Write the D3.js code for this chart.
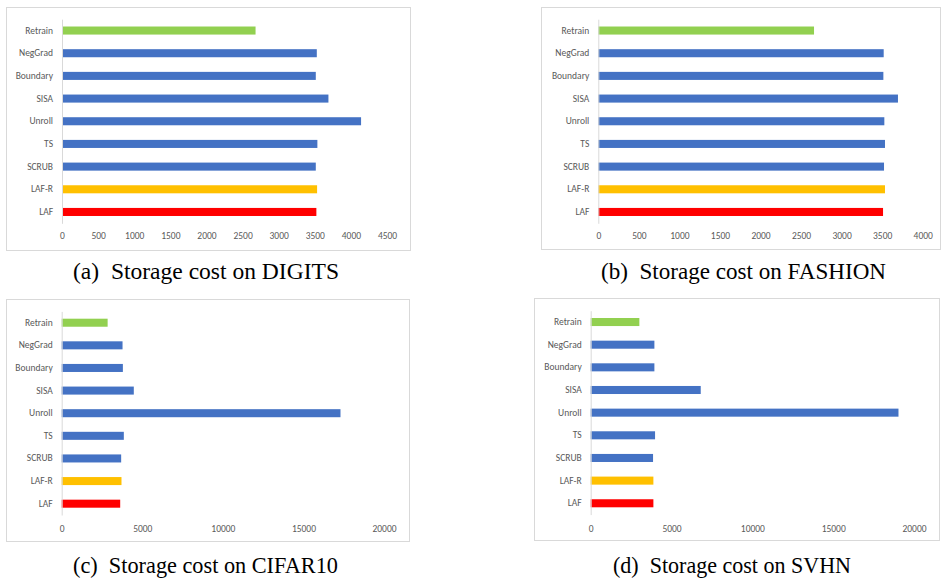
<!DOCTYPE html>
<html>
<head>
<meta charset="utf-8">
<script src="https://cdn.jsdelivr.net/npm/d3@7"></script>
<style>
  body { margin: 0; background: #fff; }
  svg { display: block; }
</style>
</head>
<body>
<svg id="chart" width="945" height="578"></svg>
<script>
const categories = ["Retrain", "NegGrad", "Boundary", "SISA", "Unroll", "TS", "SCRUB", "LAF-R", "LAF"];
const barColors = ["#92D050", "#4472C4", "#4472C4", "#4472C4", "#4472C4", "#4472C4", "#4472C4", "#FFC000", "#FF0000"];

const digitsValues  = [2680, 3528, 3514, 3689, 4141, 3536, 3514, 3532, 3522];
const fashionValues = [2660, 3519, 3515, 3695, 3527, 3535, 3523, 3535, 3511];
const cifarValues   = [2850, 3775, 3796, 4474, 17300, 3855, 3690, 3710, 3630];
const svhnValues    = [3010, 3940, 3940, 6807, 19040, 3981, 3857, 3878, 3878];

const digitsTicks  = [0, 500, 1000, 1500, 2000, 2500, 3000, 3500, 4000, 4500];
const fashionTicks = [0, 500, 1000, 1500, 2000, 2500, 3000, 3500, 4000];
const cifarTicks   = [0, 5000, 10000, 15000, 20000];
const svhnTicks    = [0, 5000, 10000, 15000, 20000];

const captions = ["(a)  Storage cost on DIGITS", "(b)  Storage cost on FASHION", "(c)  Storage cost on CIFAR10", "(d)  Storage cost on SVHN"];

const svg = d3.select("#chart");

function panel(cfg) {
  const g = svg.append("g");
  // border
  g.append("rect")
    .attr("x", cfg.box[0] + 0.5).attr("y", cfg.box[1] + 0.5)
    .attr("width", cfg.box[2] - cfg.box[0]).attr("height", cfg.box[3] - cfg.box[1])
    .attr("fill", "#fff").attr("stroke", "#D9D9D9").attr("stroke-width", 1);

  const x = d3.scaleLinear().domain([0, cfg.ticks[cfg.ticks.length - 1]]).range([cfg.x0, cfg.x1]);
  const y = d3.scaleBand().domain(categories).range([cfg.y0, cfg.y1]).paddingInner(0.645).paddingOuter(0.3225);

  // bars
  g.selectAll("rect.bar").data(cfg.values).join("rect")
    .attr("class", "bar")
    .attr("x", x(0))
    .attr("y", (d, i) => y(categories[i]))
    .attr("width", d => x(d) - x(0))
    .attr("height", y.bandwidth())
    .attr("fill", (d, i) => barColors[i]);

  // category axis
  const yAxis = d3.axisLeft(y).tickSize(0).tickPadding(9);
  const ya = g.append("g").attr("transform", `translate(${x(0)},0)`).call(yAxis);
  ya.select(".domain").attr("stroke", "#D9D9D9").attr("stroke-width", 1);
  ya.selectAll("text").attr("font-family", "Carlito, 'Open Sans', 'Liberation Sans', sans-serif")
    .attr("font-size", 9.5).attr("fill", "#595959");

  // value axis
  const xAxis = d3.axisBottom(x).tickValues(cfg.ticks).tickSize(0).tickFormat(d3.format("d"));
  const xa = g.append("g").attr("transform", `translate(0,${cfg.y1})`).call(xAxis);
  xa.select(".domain").remove();
  xa.selectAll("text").attr("font-family", "Carlito, 'Open Sans', 'Liberation Sans', sans-serif")
    .attr("font-size", 9.5).attr("fill", "#595959")
    .attr("y", cfg.tickY - cfg.y1).attr("dy", "0.35em");

  // caption
  g.append("text")
    .attr("x", cfg.capX).attr("y", cfg.capY)
    .attr("font-family", "'Liberation Serif', 'Times New Roman', Times, serif")
    .attr("font-size", 23).attr("fill", "#000")
    .attr("xml:space", "preserve")
    .attr("textLength", cfg.capW).attr("lengthAdjust", "spacingAndGlyphs")
    .text(cfg.caption);
}

panel({ values: digitsValues, ticks: digitsTicks, caption: captions[0],
  box: [6, 7, 410, 250], x0: 62, x1: 387, y0: 19.2, y1: 223.3, tickY: 236, capX: 73, capY: 279, capW: 266 });
panel({ values: fashionValues, ticks: fashionTicks, caption: captions[1],
  box: [541, 7, 940, 249], x0: 598.3, x1: 922.7, y0: 19.2, y1: 223.3, tickY: 236, capX: 601, capY: 279, capW: 285 });
panel({ values: cifarValues, ticks: cifarTicks, caption: captions[2],
  box: [6, 299, 409, 541], x0: 61.7, x1: 384, y0: 311.4, y1: 515, tickY: 529, capX: 73, capY: 573, capW: 265 });
panel({ values: svhnValues, ticks: svhnTicks, caption: captions[3],
  box: [534, 298, 939, 540], x0: 590.7, x1: 914, y0: 310.7, y1: 514.6, tickY: 529, capX: 613, capY: 573, capW: 238 });
</script>
</body>
</html>
